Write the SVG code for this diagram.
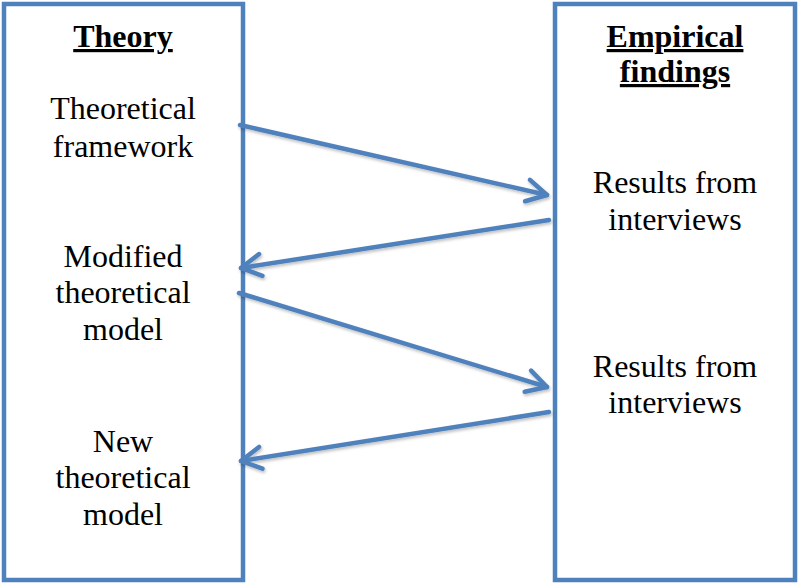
<svg xmlns="http://www.w3.org/2000/svg" width="798" height="583" viewBox="0 0 798 583">
  <defs>
    <style>
      .box { fill: #ffffff; stroke: #4F81BD; stroke-width: 4.5; }
      .conn { fill: none; stroke: #4F81BD; stroke-width: 4.5; stroke-linecap: round; }
      .t { font-family: "Liberation Serif", "Times New Roman", serif; font-size: 32px; fill: #000000; text-anchor: middle; }
      .h { font-weight: bold; text-decoration: underline; }
    </style>
    <marker id="arrow" viewBox="-24 -14 28 28" refX="0" refY="0" markerWidth="28" markerHeight="28" markerUnits="userSpaceOnUse" orient="auto" overflow="visible">
      <path d="M -20 -11 L 0 0 L -20 11" fill="none" stroke="#4F81BD" stroke-width="4.5" stroke-linecap="round" stroke-linejoin="round"/>
    </marker>
    <filter id="sh" x="-10%" y="-10%" width="120%" height="130%">
      <feDropShadow dx="1" dy="2" stdDeviation="1.5" flood-color="#000000" flood-opacity="0.25"/>
    </filter>
  </defs>

  <g id="theory">
    <rect class="box" x="4" y="4" width="239" height="576"/>
    <text class="t h" x="123" y="47">Theory</text>
    <text class="t" x="123" y="119">Theoretical</text>
    <text class="t" x="123" y="157">framework</text>
  </g>

  <g id="empirical">
    <rect class="box" x="555" y="4" width="240" height="576"/>
    <text class="t h" x="675" y="47">Empirical</text>
    <text class="t h" x="675" y="82">findings</text>
    <text class="t" x="675" y="193">Results from</text>
    <text class="t" x="675" y="230">interviews</text>
    <text class="t" x="675" y="377">Results from</text>
    <text class="t" x="675" y="413">interviews</text>
  </g>

  <g id="modified">
    <text class="t" x="123" y="267">Modified</text>
    <text class="t" x="123" y="303">theoretical</text>
    <text class="t" x="123" y="340">model</text>
  </g>

  <g id="new">
    <text class="t" x="123" y="452">New</text>
    <text class="t" x="123" y="488">theoretical</text>
    <text class="t" x="123" y="525">model</text>
  </g>

  <g id="connectors" filter="url(#sh)">
    <line class="conn" x1="240" y1="125" x2="547" y2="195" marker-end="url(#arrow)"/>
    <line class="conn" x1="549" y1="220" x2="241" y2="268" marker-end="url(#arrow)"/>
    <line class="conn" x1="239" y1="293" x2="547" y2="387" marker-end="url(#arrow)"/>
    <line class="conn" x1="549" y1="412" x2="241" y2="461" marker-end="url(#arrow)"/>
  </g>
</svg>
